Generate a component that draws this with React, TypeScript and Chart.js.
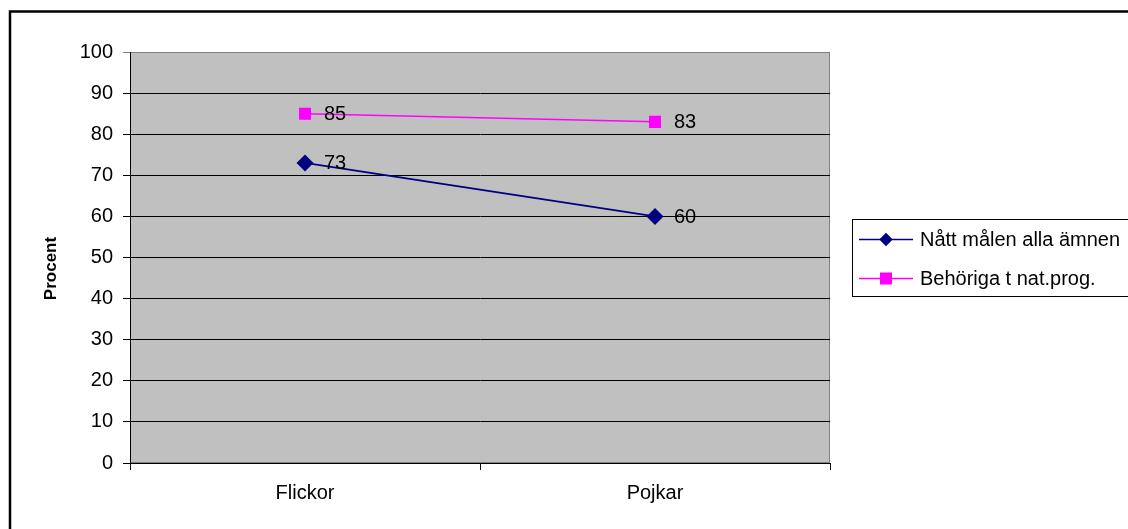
import React, { useEffect, useRef } from 'react';
import { Chart, registerables } from 'chart.js';

Chart.register(...registerables);

const categories = ['Flickor', 'Pojkar'];
const seriesNames = ['Nått målen alla ämnen', 'Behöriga t nat.prog.'];
const nattMalen = [73, 60];
const behoriga = [85, 83];
const seriesColors = ['#000080', '#FF00FF'];
const yAxisTitle = 'Procent';

const FONT = '"Liberation Sans", Arial, sans-serif';

const decorPlugin = {
  id: 'decor',
  beforeDraw(chart: any) {
    const { ctx, chartArea: a, width, height } = chart;
    ctx.save();
    ctx.fillStyle = '#ffffff';
    ctx.fillRect(0, 0, width, height);
    ctx.strokeStyle = '#000000';
    ctx.lineWidth = 2.5;
    ctx.strokeRect(10, 11.5, 3000, 3000);
    ctx.fillStyle = '#C0C0C0';
    ctx.fillRect(a.left, a.top, a.right - a.left, a.bottom - a.top);
    ctx.strokeStyle = '#808080';
    ctx.lineWidth = 1;
    ctx.strokeRect(a.left + 0.5, a.top + 0.5, a.right - a.left - 1, a.bottom - a.top - 1);
    ctx.restore();
  },
  afterDatasetsDraw(chart: any) {
    const { ctx } = chart;
    ctx.save();
    ctx.font = `20px ${FONT}`;
    ctx.fillStyle = '#000000';
    ctx.textAlign = 'left';
    ctx.textBaseline = 'middle';
    chart.data.datasets.forEach((ds: any, i: number) => {
      const meta = chart.getDatasetMeta(i);
      meta.data.forEach((pt: any, j: number) => {
        ctx.fillText(String(ds.data[j]), pt.x + 19, pt.y + 1);
      });
    });
    ctx.restore();
  },
  afterDraw(chart: any) {
    const { ctx, chartArea: a } = chart;
    ctx.save();
    // y-axis title
    ctx.translate(51, (a.top + a.bottom) / 2 + 11);
    ctx.rotate(-Math.PI / 2);
    ctx.font = `bold 17px ${FONT}`;
    ctx.fillStyle = '#000000';
    ctx.textAlign = 'center';
    ctx.textBaseline = 'middle';
    ctx.fillText(yAxisTitle, 0, 0);
    ctx.restore();

    // legend
    ctx.save();
    ctx.strokeStyle = '#000000';
    ctx.lineWidth = 1;
    ctx.strokeRect(852.5, 219.5, 400, 77);
    const rows = [239.5, 278.5];
    chart.data.datasets.forEach((ds: any, i: number) => {
      const y = rows[i];
      ctx.strokeStyle = ds.borderColor;
      ctx.lineWidth = 1.5;
      ctx.beginPath();
      ctx.moveTo(859, y);
      ctx.lineTo(913, y);
      ctx.stroke();
      ctx.fillStyle = ds.pointBackgroundColor;
      ctx.beginPath();
      if (ds.pointStyle === 'rectRot') {
        const r = 6.7;
        ctx.moveTo(886 - r, y);
        ctx.lineTo(886, y - r);
        ctx.lineTo(886 + r, y);
        ctx.lineTo(886, y + r);
        ctx.closePath();
      } else {
        ctx.rect(886 - 6, y - 6, 12, 12);
      }
      ctx.fill();
      ctx.fillStyle = '#000000';
      ctx.font = `20px ${FONT}`;
      ctx.textAlign = 'left';
      ctx.textBaseline = 'middle';
      ctx.fillText(ds.label, 920, y + 1);
    });
    ctx.restore();
  },
};

export default function App() {
  const canvasRef = useRef<HTMLCanvasElement | null>(null);

  useEffect(() => {
    const canvas = canvasRef.current;
    if (!canvas) return;
    const chart = new Chart(canvas, {
      type: 'line',
      data: {
        labels: categories,
        datasets: [
          {
            label: seriesNames[0],
            data: nattMalen,
            borderColor: seriesColors[0],
            backgroundColor: seriesColors[0],
            pointBackgroundColor: seriesColors[0],
            pointBorderColor: seriesColors[0],
            pointStyle: 'rectRot',
            pointRadius: 8.5,
            pointBorderWidth: 0,
            borderWidth: 1.8,
            tension: 0,
          },
          {
            label: seriesNames[1],
            data: behoriga,
            borderColor: seriesColors[1],
            backgroundColor: seriesColors[1],
            pointBackgroundColor: seriesColors[1],
            pointBorderColor: seriesColors[1],
            pointStyle: 'rect',
            pointRadius: 8.5,
            pointBorderWidth: 0,
            borderWidth: 1.5,
            tension: 0,
          },
        ],
      },
      options: {
        responsive: false,
        animation: false,
        layout: { padding: { top: 52, right: 298, left: 0, bottom: 0 } },
        plugins: {
          legend: { display: false },
          tooltip: { enabled: false },
          title: { display: false },
        },
        scales: {
          x: {
            type: 'category',
            offset: true,
            afterFit: (s: any) => { s.height = 66; },
            grid: {
              offset: true,
              drawOnChartArea: false,
              drawTicks: true,
              tickLength: 7,
              color: '#000000',
              lineWidth: 1,
            },
            border: { display: true, color: '#000000', width: 1 },
            ticks: {
              color: '#000000',
              font: { family: FONT, size: 20 },
              padding: 11,
              maxRotation: 0,
            },
          },
          y: {
            min: 0,
            max: 100,
            afterFit: (s: any) => { s.width = 130; },
            grid: {
              drawTicks: true,
              tickLength: 7,
              color: (c: any) => (c.tick && c.tick.value === 100 ? '#808080' : '#000000'),
              lineWidth: 1,
            },
            border: { display: true, color: '#000000', width: 1 },
            ticks: {
              stepSize: 10,
              color: '#000000',
              font: { family: FONT, size: 20 },
              padding: 10,
            },
          },
        },
      },
      plugins: [decorPlugin],
    });
    return () => chart.destroy();
  }, []);

  return (
    <div style={{ position: 'fixed', left: 0, top: 0, width: 1128, height: 529, background: '#fff' }}>
      <canvas ref={canvasRef} width={1128} height={529} style={{ width: 1128, height: 529, display: 'block' }} />
    </div>
  );
}
